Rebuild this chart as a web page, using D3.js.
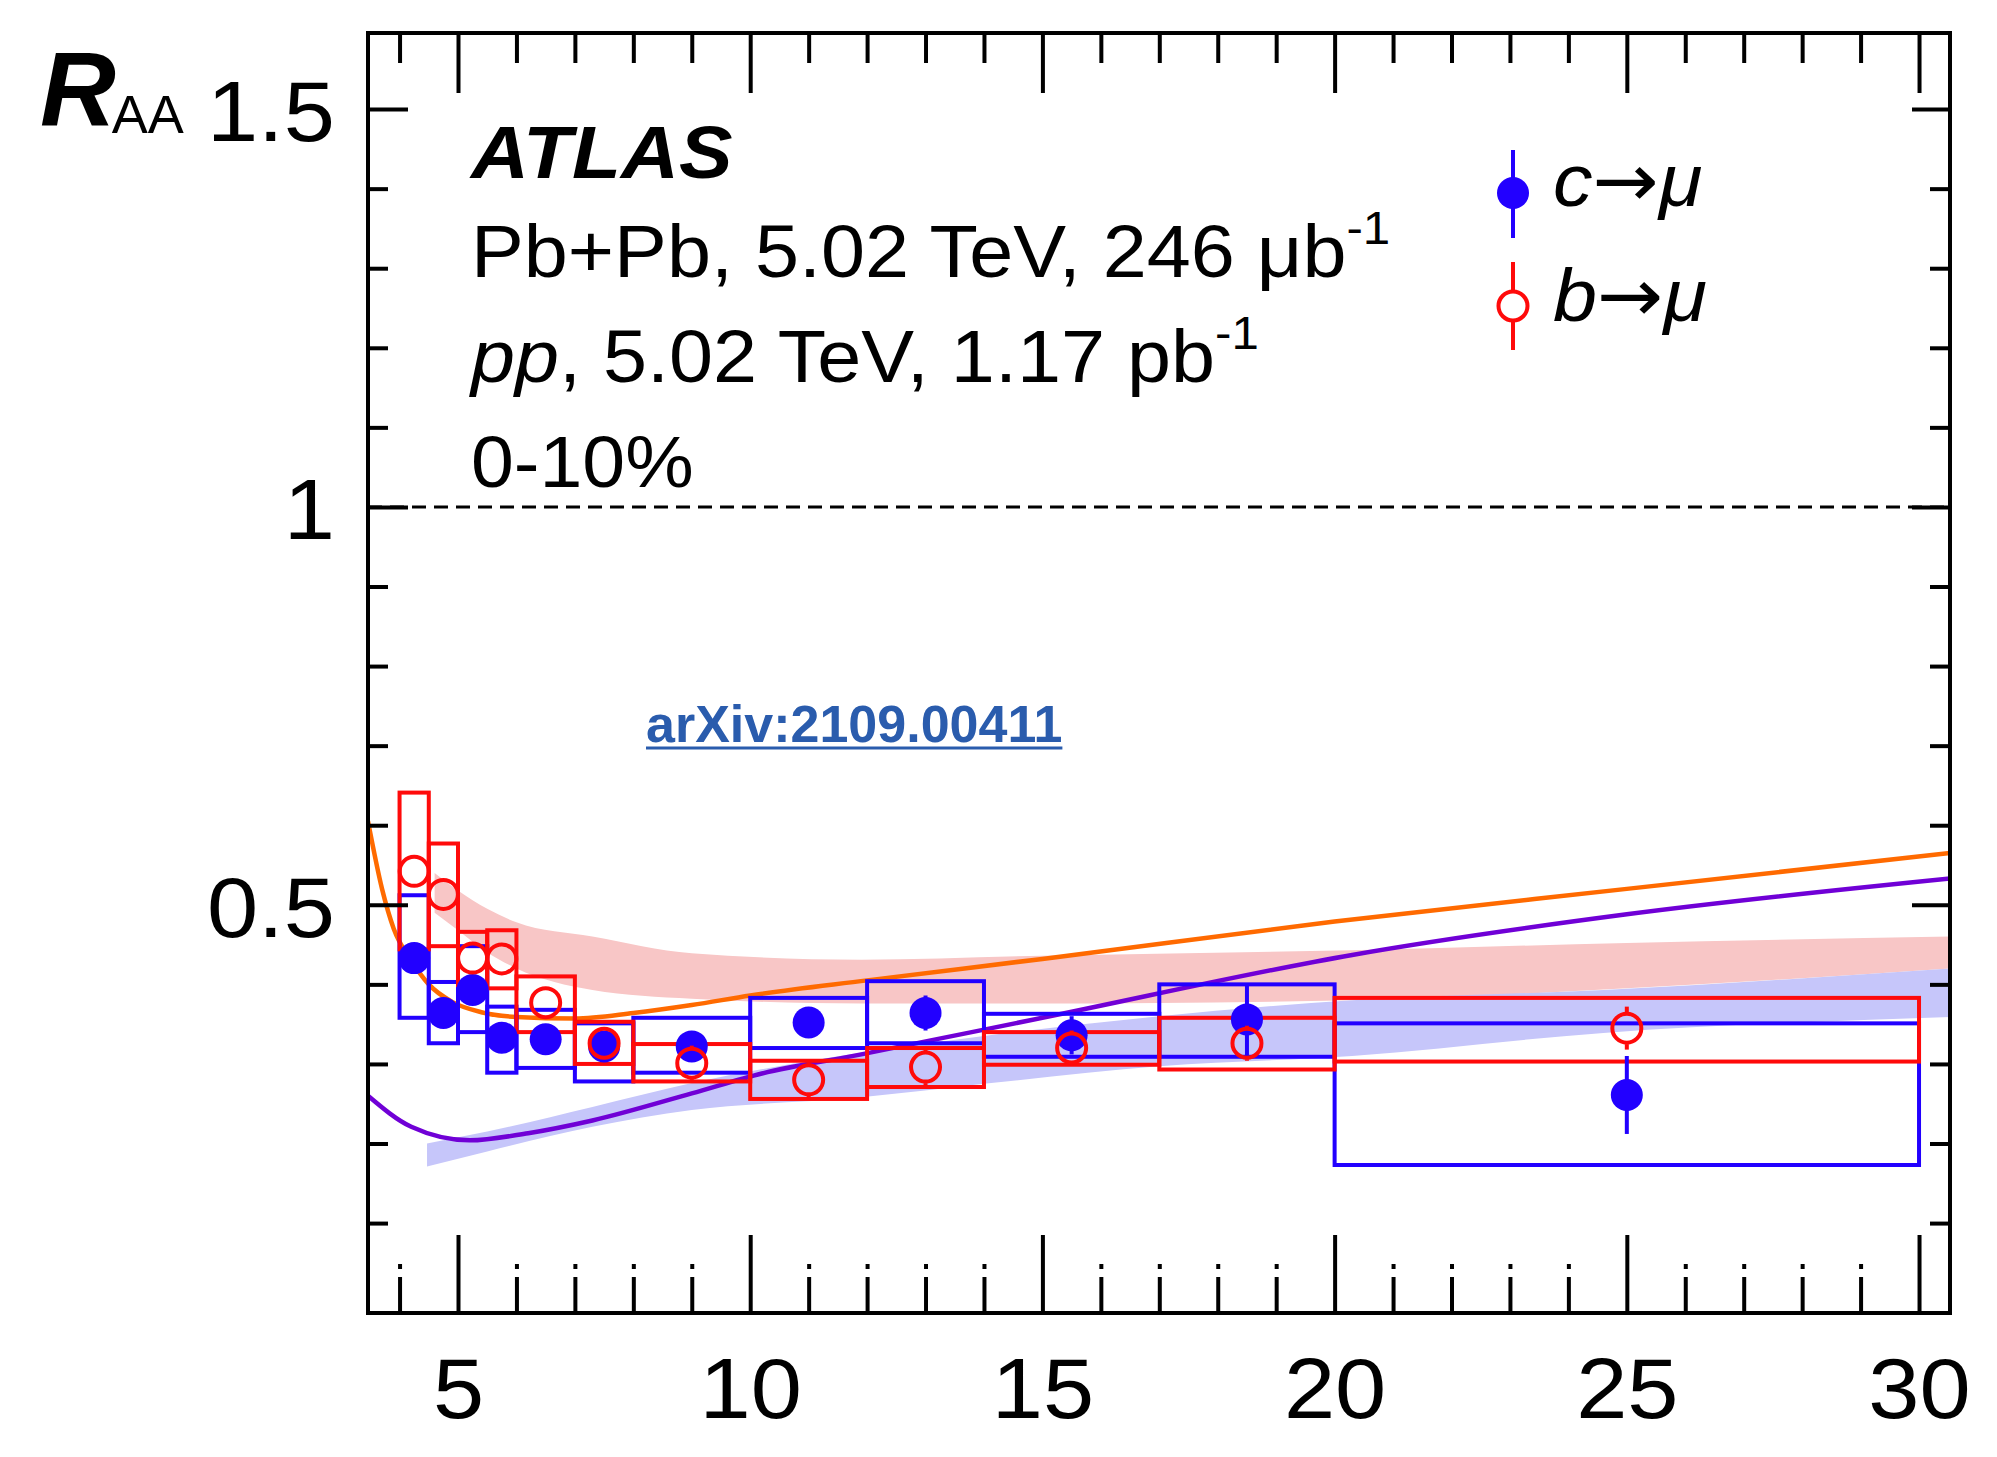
<!DOCTYPE html>
<html><head><meta charset="utf-8">
<script src="https://cdn.jsdelivr.net/npm/d3@7"></script>
<style>
body{margin:0;background:#fff}
svg{display:block}
text{font-family:"Liberation Sans",Arial,Helvetica,sans-serif}
</style>
</head><body>
<svg id="chart" width="1997" height="1457"></svg>
<script>
// ---------- data ----------
const binLo     = [4, 4.5, 5, 5.5, 6, 7, 8, 10, 12, 14, 17, 20];
const binHi     = [4.5, 5, 5.5, 6, 7, 8, 10, 12, 14, 17, 20, 30];
const binCenter = [4.25, 4.75, 5.25, 5.75, 6.5, 7.5, 9, 11, 13, 15.5, 18.5, 25];

// c -> mu (filled blue)
const cValue = [0.433, 0.364, 0.393, 0.333, 0.331, 0.322, 0.322, 0.352, 0.364, 0.336, 0.356, 0.261];
const cStat  = [0.015, 0.015, 0.015, 0.015, 0.012, 0.012, 0.015, 0.018, 0.022, 0.024, 0.045, 0.049];
const cSysLo = [0.358, 0.326, 0.340, 0.289, 0.295, 0.278, 0.289, 0.320, 0.326, 0.309, 0.309, 0.173];
const cSysHi = [0.512, 0.403, 0.448, 0.372, 0.368, 0.351, 0.358, 0.383, 0.404, 0.363, 0.400, 0.351];

// b -> mu (open red)
const bValue = [0.542, 0.513, 0.433, 0.432, 0.377, 0.326, 0.301, 0.280, 0.296, 0.320, 0.326, 0.345];
const bStat  = [0.020, 0.020, 0.018, 0.018, 0.015, 0.015, 0.022, 0.022, 0.025, 0.022, 0.022, 0.027];
const bSysLo = [0.444, 0.448, 0.399, 0.395, 0.340, 0.300, 0.278, 0.256, 0.271, 0.299, 0.293, 0.303];
const bSysHi = [0.641, 0.577, 0.466, 0.468, 0.410, 0.353, 0.325, 0.304, 0.320, 0.340, 0.358, 0.383];

// theory curves
const orangeX = [3.46, 3.7, 3.9, 4.2, 4.5, 4.9, 5.4, 6.0, 7.0, 8.0, 9.0, 10.0, 12.0, 15.0, 20.0, 25.0, 30.53];
const orangeY = [0.605, 0.52, 0.47, 0.43, 0.40, 0.378, 0.365, 0.359, 0.357, 0.364, 0.374, 0.386, 0.405, 0.432, 0.479, 0.52, 0.565];
const purpleX = [3.46, 4.2, 5.2, 6.2, 7.3, 9.0, 10.2, 11.9, 15.0, 20.3, 25.0, 30.53];
const purpleY = [0.26, 0.221, 0.204, 0.213, 0.229, 0.263, 0.288, 0.312, 0.358, 0.437, 0.488, 0.533];

// theory bands
const pinkX  = [4.6, 5.0, 5.5, 6.0, 7.3, 9.0, 11.9, 15.0, 20.3, 25.0, 30.53];
const pinkHi = [0.54, 0.518, 0.495, 0.478, 0.46, 0.439, 0.431, 0.436, 0.443, 0.452, 0.46];
const pinkLo = [0.49, 0.468, 0.44, 0.42, 0.393, 0.382, 0.376, 0.376, 0.38, 0.395, 0.42];
const lavX   = [4.47, 5.5, 7.3, 9.0, 11.9, 14.0, 17.0, 20.3, 24.6, 30.53];
const lavHi  = [0.20, 0.215, 0.246, 0.276, 0.314, 0.335, 0.36, 0.38, 0.393, 0.42];
const lavLo  = [0.171, 0.19, 0.221, 0.242, 0.258, 0.275, 0.297, 0.31, 0.339, 0.359];

// ticks
const xMajorTicks = [5, 10, 15, 20, 25, 30];
const xTickLabels = ["5", "10", "15", "20", "25", "30"];
const xMinorTicks = d3.range(4, 31).filter(v => v % 5 !== 0);
const yMajorTicks = [0.5, 1, 1.5];
const yTickLabels = ["0.5", "1", "1.5"];
const yMinorTicks = d3.range(1, 15).map(v => v / 10).filter(v => Math.abs(v - 0.5) > 1e-6 && Math.abs(v - 1) > 1e-6);

// ---------- layout ----------
const L = 368, R = 1950, T = 33, B = 1313;
const S = 1.07; // horizontal stretch of the original text
const BLUE = "#2200ff", RED = "#ff0a0a", ORANGE = "#ff6a00", PURPLE = "#7000d6";
const PINK = "#f8c6c6", LAV = "#c6c6fa", LINK = "#2a5cad";

const svg = d3.select("#chart");
const x = d3.scaleLinear().domain([3.46, 30.53]).range([L, R]);
const y = d3.scaleLinear().domain([-0.013, 1.5956]).range([B, T]);

svg.append("defs").append("clipPath").attr("id", "clip")
  .append("rect").attr("x", L).attr("y", T).attr("width", R - L).attr("height", B - T);
const plot = svg.append("g").attr("clip-path", "url(#clip)");

// bands
const pinkData = pinkX.map((v, i) => ({x: v, lo: pinkLo[i], hi: pinkHi[i]}));
const lavData = lavX.map((v, i) => ({x: v, lo: lavLo[i], hi: lavHi[i]}));
const area = d3.area().x(d => x(d.x)).y0(d => y(d.lo)).y1(d => y(d.hi)).curve(d3.curveMonotoneX);
plot.append("path").datum(pinkData).attr("d", area).attr("fill", PINK);
plot.append("path").datum(lavData).attr("d", area).attr("fill", LAV);

// y = 1 dashed line
plot.append("line").attr("x1", L).attr("x2", R).attr("y1", y(1)).attr("y2", y(1))
  .attr("stroke", "#000").attr("stroke-width", 3).attr("stroke-dasharray", "14,8");

// curves
const line = d3.line().x(d => x(d[0])).y(d => y(d[1])).curve(d3.curveMonotoneX);
plot.append("path").datum(orangeX.map((v, i) => [v, orangeY[i]])).attr("d", line)
  .attr("fill", "none").attr("stroke", ORANGE).attr("stroke-width", 4.5);
plot.append("path").datum(purpleX.map((v, i) => [v, purpleY[i]])).attr("d", line)
  .attr("fill", "none").attr("stroke", PURPLE).attr("stroke-width", 4.5);

// systematic boxes
function boxes(lo, hi, color) {
  plot.append("g").selectAll("rect").data(binLo).join("rect")
    .attr("x", (d, i) => x(binLo[i])).attr("width", (d, i) => x(binHi[i]) - x(binLo[i]))
    .attr("y", (d, i) => y(hi[i])).attr("height", (d, i) => y(lo[i]) - y(hi[i]))
    .attr("fill", "none").attr("stroke", color).attr("stroke-width", 4);
}
boxes(cSysLo, cSysHi, BLUE);
boxes(bSysLo, bSysHi, RED);

// markers
const MR = 16;
const cg = plot.append("g");
binCenter.forEach((cx, i) => {
  cg.append("line").attr("x1", x(cx)).attr("x2", x(cx))
    .attr("y1", y(cValue[i] + cStat[i])).attr("y2", y(cValue[i] - cStat[i]))
    .attr("stroke", BLUE).attr("stroke-width", 4);
  cg.append("circle").attr("cx", x(cx)).attr("cy", y(cValue[i])).attr("r", MR).attr("fill", BLUE);
});
const bg = plot.append("g");
binCenter.forEach((cx, i) => {
  const yc = y(bValue[i]), yt = y(bValue[i] + bStat[i]), yb = y(bValue[i] - bStat[i]);
  if (yc - MR > yt) bg.append("line").attr("x1", x(cx)).attr("x2", x(cx)).attr("y1", yt).attr("y2", yc - MR)
    .attr("stroke", RED).attr("stroke-width", 4);
  if (yc + MR < yb) bg.append("line").attr("x1", x(cx)).attr("x2", x(cx)).attr("y1", yc + MR).attr("y2", yb)
    .attr("stroke", RED).attr("stroke-width", 4);
  bg.append("circle").attr("cx", x(cx)).attr("cy", yc).attr("r", MR - 1.5)
    .attr("fill", "none").attr("stroke", RED).attr("stroke-width", 4);
});

// ---------- axes ----------
function styleAxis(g, fs) {
  g.select(".domain").remove();
  g.attr("font-size", fs).attr("font-family", '"Liberation Sans",Arial,Helvetica,sans-serif');
  g.selectAll(".tick line").attr("stroke", "#000").attr("stroke-width", 4);
  g.selectAll(".tick text").attr("fill", "#000");
}
// left
const gl = svg.append("g").attr("transform", `translate(${L},0)`)
  .call(d3.axisLeft(y).tickValues(yMajorTicks).tickFormat((d, i) => yTickLabels[i])
    .tickSizeInner(-40).tickSizeOuter(0).tickPadding(31));
styleAxis(gl, 86);
gl.selectAll(".tick text").attr("dy", "0.37em").attr("transform", `scale(${S},1)`);
const glm = svg.append("g").attr("transform", `translate(${L},0)`)
  .call(d3.axisLeft(y).tickValues(yMinorTicks).tickFormat("").tickSizeInner(-20).tickSizeOuter(0));
styleAxis(glm, 10);
// right
const gr = svg.append("g").attr("transform", `translate(${R},0)`)
  .call(d3.axisLeft(y).tickValues(yMajorTicks).tickFormat("").tickSizeInner(38).tickSizeOuter(0));
styleAxis(gr, 10);
const grm = svg.append("g").attr("transform", `translate(${R},0)`)
  .call(d3.axisLeft(y).tickValues(yMinorTicks).tickFormat("").tickSizeInner(20).tickSizeOuter(0));
styleAxis(grm, 10);
// top
const gt = svg.append("g").attr("transform", `translate(0,${T})`)
  .call(d3.axisTop(x).tickValues(xMajorTicks).tickFormat("").tickSizeInner(-60).tickSizeOuter(0));
styleAxis(gt, 10);
const gtm = svg.append("g").attr("transform", `translate(0,${T})`)
  .call(d3.axisTop(x).tickValues(xMinorTicks).tickFormat("").tickSizeInner(-30).tickSizeOuter(0));
styleAxis(gtm, 10);
// bottom
const gb = svg.append("g").attr("transform", `translate(0,${B})`)
  .call(d3.axisBottom(x).tickValues(xMajorTicks).tickFormat((d, i) => xTickLabels[i])
    .tickSizeInner(-78).tickSizeOuter(0).tickPadding(44));
styleAxis(gb, 86);
gb.selectAll(".tick text").attr("transform", `scale(${S},1)`);
const gbm = svg.append("g").attr("transform", `translate(0,${B})`)
  .call(d3.axisBottom(x).tickValues(xMinorTicks).tickFormat("").tickSizeInner(-36).tickSizeOuter(0));
styleAxis(gbm, 10);
gbm.selectAll(".tick").append("line").attr("y1", -44).attr("y2", -49)
  .attr("stroke", "#000").attr("stroke-width", 4);

// frame
svg.append("rect").attr("x", L).attr("y", T).attr("width", R - L).attr("height", B - T)
  .attr("fill", "none").attr("stroke", "#000").attr("stroke-width", 4);

// ---------- texts ----------
function stretched(xp, yp, fs) {
  return svg.append("text").attr("transform", `translate(${xp},${yp}) scale(${S},1)`)
    .attr("font-size", fs).attr("fill", "#000");
}
// axis title R_AA
const rt = svg.append("text").attr("x", 40).attr("y", 126).attr("fill", "#000");
rt.append("tspan").attr("font-size", 105).attr("font-weight", "bold").attr("font-style", "italic").text("R");
rt.append("tspan").attr("font-size", 54).attr("dy", 7).attr("dx", -4).text("AA");

stretched(471, 178, 75).attr("font-weight", "bold").attr("font-style", "italic").text("ATLAS");
const t1 = stretched(471, 277, 74);
t1.append("tspan").text("Pb+Pb, 5.02 TeV, 246 μb");
t1.append("tspan").attr("font-size", 46).attr("dy", -33).text("-1");
const t2 = stretched(471, 382, 74);
t2.append("tspan").attr("font-style", "italic").text("pp");
t2.append("tspan").text(", 5.02 TeV, 1.17 pb");
t2.append("tspan").attr("font-size", 46).attr("dy", -33).text("-1");
stretched(471, 487, 72).text("0-10%");

// legend
const lg = svg.append("g");
lg.append("line").attr("x1", 1513).attr("x2", 1513).attr("y1", 150).attr("y2", 238)
  .attr("stroke", BLUE).attr("stroke-width", 4);
lg.append("circle").attr("cx", 1513).attr("cy", 193).attr("r", MR).attr("fill", BLUE);
lg.append("line").attr("x1", 1513).attr("x2", 1513).attr("y1", 262).attr("y2", 306 - MR)
  .attr("stroke", RED).attr("stroke-width", 4);
lg.append("line").attr("x1", 1513).attr("x2", 1513).attr("y1", 306 + MR).attr("y2", 350)
  .attr("stroke", RED).attr("stroke-width", 4);
lg.append("circle").attr("cx", 1513).attr("cy", 306).attr("r", MR - 1.5)
  .attr("fill", "#fff").attr("stroke", RED).attr("stroke-width", 4);
function legendText(yp, letter) {
  const t = stretched(1553, yp, 74);
  t.append("tspan").attr("font-style", "italic").text(letter);
  t.append("tspan").attr("font-family", '"DejaVu Sans",sans-serif').attr("font-size", 74).text("→");
  t.append("tspan").attr("font-style", "italic").text("μ");
}
legendText(206, "c");
legendText(321, "b");

// arXiv link
const ax = svg.append("text").attr("x", 646).attr("y", 742).attr("font-size", 52)
  .attr("font-weight", "bold").attr("fill", LINK).text("arXiv:2109.00411");
const axw = ax.node().getComputedTextLength();
svg.append("line").attr("x1", 646).attr("x2", 646 + axw).attr("y1", 748).attr("y2", 748)
  .attr("stroke", LINK).attr("stroke-width", 3);
</script>
</body></html>
